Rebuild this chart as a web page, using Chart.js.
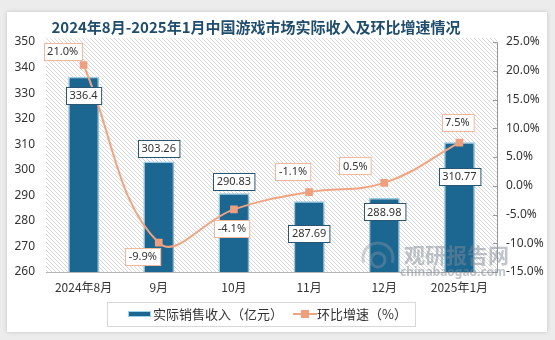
<!DOCTYPE html>
<html>
<head>
<meta charset="utf-8">
<script src="https://cdn.jsdelivr.net/npm/chart.js@4/dist/chart.umd.min.js"></script>
<style>
  html, body { margin: 0; padding: 0; background: #ececec; }
  #wrap { position: relative; width: 555px; height: 340px; overflow: hidden; }
  #card { position: absolute; left: 7px; top: 12px; width: 540px; height: 320px; background: #fff;
          box-shadow: 0 0 4px rgba(0,0,0,0.18); }
  #my-chart { position: absolute; left: 0; top: 0; }
</style>
</head>
<body>
<div id="wrap">
  <div id="card"></div>
  <canvas id="my-chart" width="555" height="340"></canvas>
</div>
<script>
let months = ['2024年8月', '9月', '10月', '11月', '12月', '2025年1月'];
let revenue = [336.4, 303.26, 290.83, 287.69, 288.98, 310.77];
let growth = [21.0, -9.9, -4.1, -1.1, 0.5, 7.5];
let leftTicks = [260, 350, 10];
let rightTicks = [-15, 25, 5];

// label box offsets (px) relative to bar top / line point
let barLabelOff = [19, -13, -12, 32, 14, 34];
let lineLabelOff = [[-21, -14], [-16, 14], [-2, 19], [-16, -21], [-29, -17], [-2, -20]];

const FONT = "'Noto Sans', 'Noto Sans CJK SC', sans-serif";
const CJK = "'Noto Sans CJK SC', 'Noto Sans', sans-serif";

function hatch() {
    let c = document.createElement('canvas');
    c.width = 4; c.height = 4;
    let g = c.getContext('2d');
    g.strokeStyle = '#d9d9d9';
    g.lineWidth = 1;
    g.beginPath();
    g.moveTo(-1, -1); g.lineTo(5, 5);
    g.moveTo(3, -1); g.lineTo(5, 1);
    g.moveTo(-1, 3); g.lineTo(1, 5);
    g.stroke();
    return c;
}

function box(ctx, text, cx, cy, border) {
    ctx.font = '11px ' + FONT;
    let w = ctx.measureText(text).width + 7;
    let h = 17;
    let x = Math.round(cx - w / 2) + 0.5, y = Math.round(cy - h / 2) + 0.5;
    ctx.fillStyle = '#fff';
    ctx.fillRect(x, y, w, h);
    ctx.strokeStyle = border;
    ctx.lineWidth = 1;
    ctx.strokeRect(x, y, w, h);
    ctx.fillStyle = '#333';
    ctx.textAlign = 'center';
    ctx.textBaseline = 'middle';
    ctx.fillText(text, cx, cy + 0.5);
}

const decor = {
    id: 'decor',
    beforeDatasetsDraw(chart) {
        let ctx = chart.ctx, a = chart.chartArea;
        ctx.save();
        ctx.fillStyle = ctx.createPattern(hatch(), 'repeat');
        ctx.fillRect(a.left, a.top - 4, a.right - a.left, a.bottom - a.top + 4);
        ctx.restore();
    },
    beforeDatasetDraw(chart, args) {
        if (args.index === 0) {
            let ctx = chart.ctx;
            ctx.save();
            ctx.shadowColor = 'rgba(0,0,0,0.3)';
            ctx.shadowBlur = 3;
            ctx.shadowOffsetX = 1;
            ctx.shadowOffsetY = 1;
        }
    },
    afterDatasetDraw(chart, args) {
        if (args.index === 0) chart.ctx.restore();
    },
    afterDraw(chart) {
        let ctx = chart.ctx, a = chart.chartArea;
        ctx.save();

        // inward ticks on the right axis
        let y1 = chart.scales.y1;
        ctx.strokeStyle = '#999';
        ctx.lineWidth = 1;
        y1.ticks.forEach(t => {
            let py = Math.round(y1.getPixelForValue(t.value)) + 0.5;
            ctx.beginPath();
            ctx.moveTo(a.right - 4, py);
            ctx.lineTo(a.right, py);
            ctx.stroke();
        });

        // value labels
        let bars = chart.getDatasetMeta(0).data;
        bars.forEach((b, i) => {
            box(ctx, revenue[i].toString(), b.x, b.y + barLabelOff[i], '#2b5673');
        });
        let pts = chart.getDatasetMeta(1).data;
        pts.forEach((p, i) => {
            box(ctx, growth[i].toFixed(1) + '%', p.x + lineLabelOff[i][0], p.y + lineLabelOff[i][1], '#f2b79d');
        });

        // watermark
        ctx.globalAlpha = 0.4;
        ctx.strokeStyle = '#8a97a3';
        ctx.lineWidth = 3;
        ctx.beginPath();
        ctx.arc(378, 258, 15, Math.PI * 0.9, Math.PI * 2.1);
        ctx.stroke();
        ctx.beginPath();
        ctx.arc(378, 260, 7, 0, Math.PI * 2);
        ctx.stroke();
        ctx.globalAlpha = 0.5;
        ctx.fillStyle = '#7d8a96';
        ctx.font = 'bold 21px ' + CJK;
        ctx.textAlign = 'left';
        ctx.textBaseline = 'middle';
        ctx.fillText('观研报告网', 404, 255);
        ctx.font = 'bold 12px ' + FONT;
        ctx.fillText('chinabaogao.com', 400, 273);
        ctx.globalAlpha = 1;

        // title
        ctx.fillStyle = '#1f4d6b';
        ctx.font = 'bold 15px ' + CJK;
        ctx.textAlign = 'center';
        ctx.textBaseline = 'middle';
        ctx.fillText('2024年8月-2025年1月中国游戏市场实际收入及环比增速情况', 256, 27);

        // legend
        ctx.fillStyle = '#fff';
        ctx.fillRect(107.5, 302.5, 308, 24);
        ctx.strokeStyle = '#d8d8d8';
        ctx.lineWidth = 1;
        ctx.strokeRect(107.5, 302.5, 308, 24);
        ctx.fillStyle = '#9ed2ea';
        ctx.fillRect(128, 311, 23, 6);
        ctx.fillStyle = '#1c6791';
        ctx.fillRect(129, 312, 21, 4);
        ctx.fillStyle = '#333';
        ctx.font = '13px ' + CJK;
        ctx.textAlign = 'left';
        ctx.fillText('实际销售收入（亿元）', 153, 314.5);
        ctx.strokeStyle = '#f0a482';
        ctx.lineWidth = 2;
        ctx.beginPath();
        ctx.moveTo(293, 314);
        ctx.lineTo(317, 314);
        ctx.stroke();
        ctx.fillStyle = '#ee9f7e';
        ctx.fillRect(301, 310, 8, 8);
        ctx.fillStyle = '#333';
        ctx.fillText('环比增速（%）', 317, 314.5);

        ctx.restore();
    }
};

new Chart('my-chart', {
    data: {
        labels: months,
        datasets: [
            {
                type: 'bar',
                label: '实际销售收入（亿元）',
                data: revenue,
                yAxisID: 'y',
                backgroundColor: '#1c6791',
                borderColor: '#9ed2ea',
                borderWidth: 1.5,
                barPercentage: 0.41,
                categoryPercentage: 1,
                order: 2
            },
            {
                type: 'line',
                label: '环比增速（%）',
                data: growth,
                yAxisID: 'y1',
                borderColor: '#f0a482',
                borderWidth: 2,
                tension: 0.4,
                pointStyle: 'rect',
                pointRadius: 4,
                pointBackgroundColor: '#ee9f7e',
                pointBorderColor: '#ee9f7e',
                order: 1
            }
        ]
    },
    options: {
        responsive: false,
        animation: false,
        layout: { padding: { top: 42, left: 0, right: 0, bottom: 0 } },
        plugins: {
            legend: { display: false },
            title: { display: false },
            tooltip: { enabled: false }
        },
        scales: {
            x: {
                grid: { display: false, drawTicks: false },
                border: { display: true, color: '#b5b5b5' },
                ticks: { padding: 8, color: '#333', font: { size: 12, family: CJK } },
                afterFit(s) { s.height = 68; }
            },
            y: {
                min: leftTicks[0],
                max: leftTicks[1],
                grid: { display: false, drawTicks: false },
                border: { display: false },
                ticks: { stepSize: leftTicks[2], padding: 11, color: '#333', font: { size: 12, family: FONT } },
                afterFit(s) { s.width = 46; }
            },
            y1: {
                position: 'right',
                min: rightTicks[0],
                max: rightTicks[1],
                grid: { drawOnChartArea: false, drawTicks: false },
                border: { display: true, color: '#999' },
                ticks: {
                    stepSize: rightTicks[2], padding: 9, color: '#333', font: { size: 12, family: FONT },
                    callback: v => v.toFixed(1) + '%'
                },
                afterFit(s) { s.width = 58; }
            }
        }
    },
    plugins: [decor]
});
</script>
</body>
</html>
